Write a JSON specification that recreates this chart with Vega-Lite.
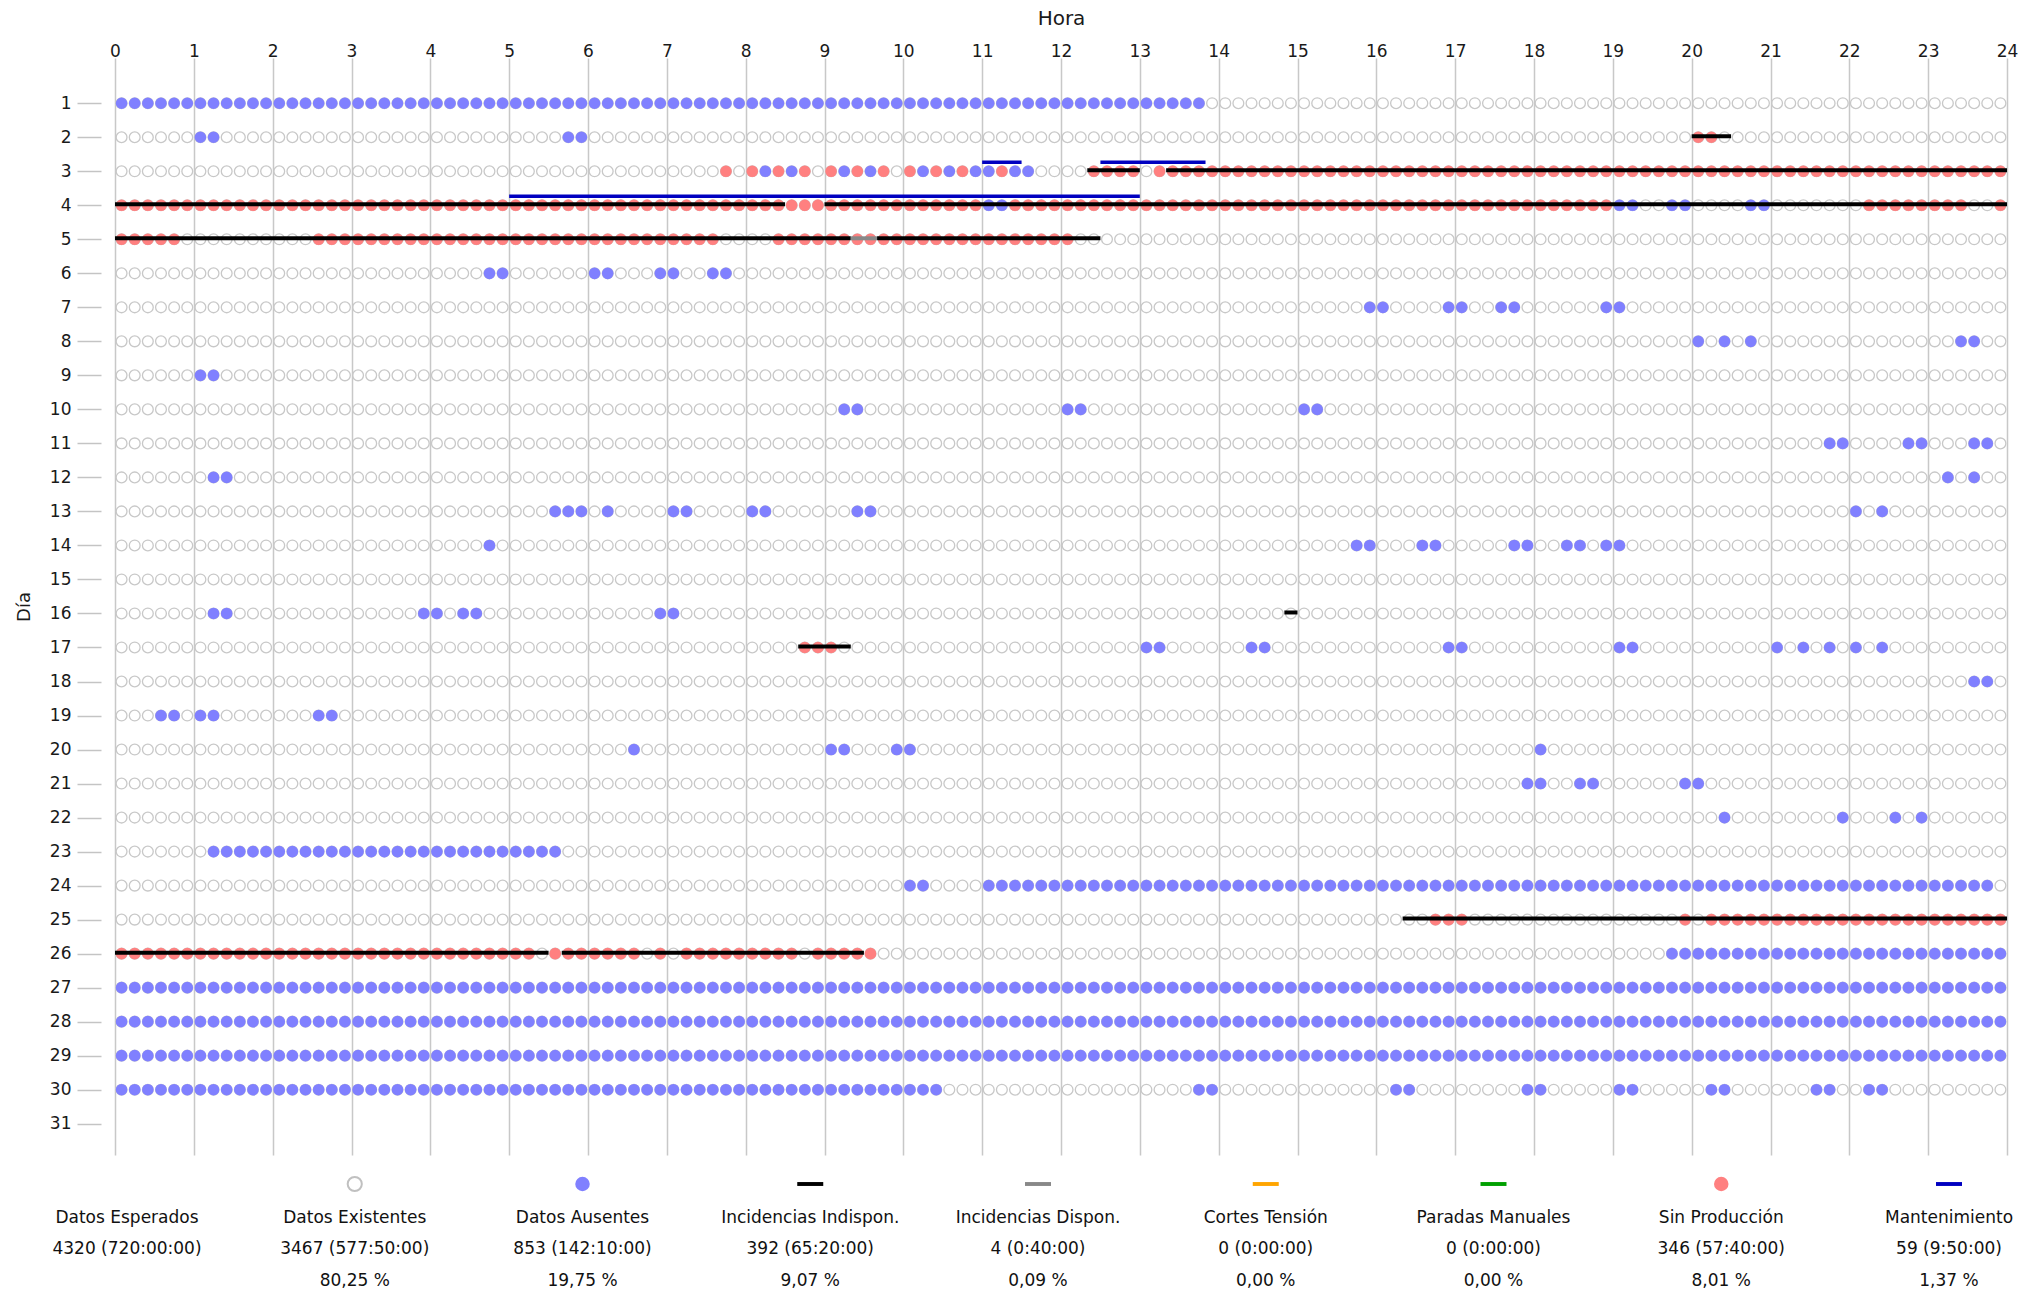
{
"$schema":"https://vega.github.io/schema/vega-lite/v6.json",
"background":"white",
"padding":{"left":15,"top":8,"right":0,"bottom":0},
"spacing":29,
"bounds":"flush",
"config":{"view":{"stroke":null},"font":"DejaVu Sans"},
"datasets":{
"esperados":[{"dia":[1,2,3,4,5,6,7,8,9,10,11,12,13,14,15,16,17,18,19,20,21,22,23,24,25,26,27,28,29,30],"min":[0,10,20,30,40,50,60,70,80,90,100,110,120,130,140,150,160,170,180,190,200,210,220,230,240,250,260,270,280,290,300,310,320,330,340,350,360,370,380,390,400,410,420,430,440,450,460,470,480,490,500,510,520,530,540,550,560,570,580,590,600,610,620,630,640,650,660,670,680,690,700,710,720,730,740,750,760,770,780,790,800,810,820,830,840,850,860,870,880,890,900,910,920,930,940,950,960,970,980,990,1000,1010,1020,1030,1040,1050,1060,1070,1080,1090,1100,1110,1120,1130,1140,1150,1160,1170,1180,1190,1200,1210,1220,1230,1240,1250,1260,1270,1280,1290,1300,1310,1320,1330,1340,1350,1360,1370,1380,1390,1400,1410,1420,1430]}],
"estados":[
{"dia":1,"serie":"Datos Ausentes","min":[0,10,20,30,40,50,60,70,80,90,100,110,120,130,140,150,160,170,180,190,200,210,220,230,240,250,260,270,280,290,300,310,320,330,340,350,360,370,380,390,400,410,420,430,440,450,460,470,480,490,500,510,520,530,540,550,560,570,580,590,600,610,620,630,640,650,660,670,680,690,700,710,720,730,740,750,760,770,780,790,800,810,820]},
{"dia":2,"serie":"Datos Ausentes","min":[60,70,340,350]},
{"dia":3,"serie":"Datos Ausentes","min":[490,510,550,570,610,630,650,660,680,690]},
{"dia":4,"serie":"Datos Ausentes","min":[660,670,1140,1150,1180,1190,1240,1250]},
{"dia":6,"serie":"Datos Ausentes","min":[280,290,360,370,410,420,450,460]},
{"dia":7,"serie":"Datos Ausentes","min":[950,960,1010,1020,1050,1060,1130,1140]},
{"dia":8,"serie":"Datos Ausentes","min":[1200,1220,1240,1400,1410]},
{"dia":9,"serie":"Datos Ausentes","min":[60,70]},
{"dia":10,"serie":"Datos Ausentes","min":[550,560,720,730,900,910]},
{"dia":11,"serie":"Datos Ausentes","min":[1300,1310,1360,1370,1410,1420]},
{"dia":12,"serie":"Datos Ausentes","min":[70,80,1390,1410]},
{"dia":13,"serie":"Datos Ausentes","min":[330,340,350,370,420,430,480,490,560,570,1320,1340]},
{"dia":14,"serie":"Datos Ausentes","min":[280,940,950,990,1000,1060,1070,1100,1110,1130,1140]},
{"dia":16,"serie":"Datos Ausentes","min":[70,80,230,240,260,270,410,420]},
{"dia":17,"serie":"Datos Ausentes","min":[780,790,860,870,1010,1020,1140,1150,1260,1280,1300,1320,1340]},
{"dia":18,"serie":"Datos Ausentes","min":[1410,1420]},
{"dia":19,"serie":"Datos Ausentes","min":[30,40,60,70,150,160]},
{"dia":20,"serie":"Datos Ausentes","min":[390,540,550,590,600,1080]},
{"dia":21,"serie":"Datos Ausentes","min":[1070,1080,1110,1120,1190,1200]},
{"dia":22,"serie":"Datos Ausentes","min":[1220,1310,1350,1370]},
{"dia":23,"serie":"Datos Ausentes","min":[70,80,90,100,110,120,130,140,150,160,170,180,190,200,210,220,230,240,250,260,270,280,290,300,310,320,330]},
{"dia":24,"serie":"Datos Ausentes","min":[600,610,660,670,680,690,700,710,720,730,740,750,760,770,780,790,800,810,820,830,840,850,860,870,880,890,900,910,920,930,940,950,960,970,980,990,1000,1010,1020,1030,1040,1050,1060,1070,1080,1090,1100,1110,1120,1130,1140,1150,1160,1170,1180,1190,1200,1210,1220,1230,1240,1250,1260,1270,1280,1290,1300,1310,1320,1330,1340,1350,1360,1370,1380,1390,1400,1410,1420]},
{"dia":26,"serie":"Datos Ausentes","min":[1180,1190,1200,1210,1220,1230,1240,1250,1260,1270,1280,1290,1300,1310,1320,1330,1340,1350,1360,1370,1380,1390,1400,1410,1420,1430]},
{"dia":27,"serie":"Datos Ausentes","min":[0,10,20,30,40,50,60,70,80,90,100,110,120,130,140,150,160,170,180,190,200,210,220,230,240,250,260,270,280,290,300,310,320,330,340,350,360,370,380,390,400,410,420,430,440,450,460,470,480,490,500,510,520,530,540,550,560,570,580,590,600,610,620,630,640,650,660,670,680,690,700,710,720,730,740,750,760,770,780,790,800,810,820,830,840,850,860,870,880,890,900,910,920,930,940,950,960,970,980,990,1000,1010,1020,1030,1040,1050,1060,1070,1080,1090,1100,1110,1120,1130,1140,1150,1160,1170,1180,1190,1200,1210,1220,1230,1240,1250,1260,1270,1280,1290,1300,1310,1320,1330,1340,1350,1360,1370,1380,1390,1400,1410,1420,1430]},
{"dia":28,"serie":"Datos Ausentes","min":[0,10,20,30,40,50,60,70,80,90,100,110,120,130,140,150,160,170,180,190,200,210,220,230,240,250,260,270,280,290,300,310,320,330,340,350,360,370,380,390,400,410,420,430,440,450,460,470,480,490,500,510,520,530,540,550,560,570,580,590,600,610,620,630,640,650,660,670,680,690,700,710,720,730,740,750,760,770,780,790,800,810,820,830,840,850,860,870,880,890,900,910,920,930,940,950,960,970,980,990,1000,1010,1020,1030,1040,1050,1060,1070,1080,1090,1100,1110,1120,1130,1140,1150,1160,1170,1180,1190,1200,1210,1220,1230,1240,1250,1260,1270,1280,1290,1300,1310,1320,1330,1340,1350,1360,1370,1380,1390,1400,1410,1420,1430]},
{"dia":29,"serie":"Datos Ausentes","min":[0,10,20,30,40,50,60,70,80,90,100,110,120,130,140,150,160,170,180,190,200,210,220,230,240,250,260,270,280,290,300,310,320,330,340,350,360,370,380,390,400,410,420,430,440,450,460,470,480,490,500,510,520,530,540,550,560,570,580,590,600,610,620,630,640,650,660,670,680,690,700,710,720,730,740,750,760,770,780,790,800,810,820,830,840,850,860,870,880,890,900,910,920,930,940,950,960,970,980,990,1000,1010,1020,1030,1040,1050,1060,1070,1080,1090,1100,1110,1120,1130,1140,1150,1160,1170,1180,1190,1200,1210,1220,1230,1240,1250,1260,1270,1280,1290,1300,1310,1320,1330,1340,1350,1360,1370,1380,1390,1400,1410,1420,1430]},
{"dia":30,"serie":"Datos Ausentes","min":[0,10,20,30,40,50,60,70,80,90,100,110,120,130,140,150,160,170,180,190,200,210,220,230,240,250,260,270,280,290,300,310,320,330,340,350,360,370,380,390,400,410,420,430,440,450,460,470,480,490,500,510,520,530,540,550,560,570,580,590,600,610,620,820,830,970,980,1070,1080,1140,1150,1210,1220,1290,1300,1330,1340]},
{"dia":2,"serie":"Sin Producción","min":[1200,1210]},
{"dia":3,"serie":"Sin Producción","min":[460,480,500,520,540,560,580,600,620,640,670,740,750,760,770,790,800,810,820,830,840,850,860,870,880,890,900,910,920,930,940,950,960,970,980,990,1000,1010,1020,1030,1040,1050,1060,1070,1080,1090,1100,1110,1120,1130,1140,1150,1160,1170,1180,1190,1200,1210,1220,1230,1240,1250,1260,1270,1280,1290,1300,1310,1320,1330,1340,1350,1360,1370,1380,1390,1400,1410,1420,1430]},
{"dia":4,"serie":"Sin Producción","min":[0,10,20,30,40,50,60,70,80,90,100,110,120,130,140,150,160,170,180,190,200,210,220,230,240,250,260,270,280,290,300,310,320,330,340,350,360,370,380,390,400,410,420,430,440,450,460,470,480,490,500,510,520,530,540,550,560,570,580,590,600,610,620,630,640,650,680,690,700,710,720,730,740,750,760,770,780,790,800,810,820,830,840,850,860,870,880,890,900,910,920,930,940,950,960,970,980,990,1000,1010,1020,1030,1040,1050,1060,1070,1080,1090,1100,1110,1120,1130,1330,1340,1350,1360,1370,1380,1390,1400,1430]},
{"dia":5,"serie":"Sin Producción","min":[0,10,20,30,40,150,160,170,180,190,200,210,220,230,240,250,260,270,280,290,300,310,320,330,340,350,360,370,380,390,400,410,420,430,440,450,500,510,520,530,540,550,560,570,580,590,600,610,620,630,640,650,660,670,680,690,700,710,720]},
{"dia":17,"serie":"Sin Producción","min":[520,530,540]},
{"dia":25,"serie":"Sin Producción","min":[1000,1010,1020,1190,1210,1220,1230,1240,1250,1260,1270,1280,1290,1300,1310,1320,1330,1340,1350,1360,1370,1380,1390,1400,1410,1420,1430]},
{"dia":26,"serie":"Sin Producción","min":[0,10,20,30,40,50,60,70,80,90,100,110,120,130,140,150,160,170,180,190,200,210,220,230,240,250,260,270,280,290,300,310,330,340,350,360,370,380,390,410,430,440,450,460,470,480,490,500,510,530,540,550,560,570]}
],
"lineas":[
{"dia":2,"serie":"Incidencias Indispon.","ini":1200,"fin":1230},
{"dia":3,"serie":"Incidencias Indispon.","ini":740,"fin":780},
{"dia":3,"serie":"Incidencias Indispon.","ini":800,"fin":1440},
{"dia":4,"serie":"Incidencias Indispon.","ini":0,"fin":510},
{"dia":4,"serie":"Incidencias Indispon.","ini":540,"fin":1440},
{"dia":5,"serie":"Incidencias Indispon.","ini":0,"fin":560},
{"dia":5,"serie":"Incidencias Indispon.","ini":580,"fin":750},
{"dia":16,"serie":"Incidencias Indispon.","ini":890,"fin":900},
{"dia":17,"serie":"Incidencias Indispon.","ini":520,"fin":560},
{"dia":25,"serie":"Incidencias Indispon.","ini":980,"fin":1440},
{"dia":26,"serie":"Incidencias Indispon.","ini":0,"fin":330},
{"dia":26,"serie":"Incidencias Indispon.","ini":340,"fin":570},
{"dia":5,"serie":"Incidencias Dispon.","ini":560,"fin":580},
{"dia":3,"serie":"Mantenimiento","ini":660,"fin":690},
{"dia":3,"serie":"Mantenimiento","ini":750,"fin":830},
{"dia":4,"serie":"Mantenimiento","ini":300,"fin":780}
],
"leyenda":[
{"serie":"Datos Esperados","valor":"4320 (720:00:00)","pct":""},
{"serie":"Datos Existentes","valor":"3467 (577:50:00)","pct":"80,25 %"},
{"serie":"Datos Ausentes","valor":"853 (142:10:00)","pct":"19,75 %"},
{"serie":"Incidencias Indispon.","valor":"392 (65:20:00)","pct":"9,07 %"},
{"serie":"Incidencias Dispon.","valor":"4 (0:40:00)","pct":"0,09 %"},
{"serie":"Cortes Tensión","valor":"0 (0:00:00)","pct":"0,00 %"},
{"serie":"Paradas Manuales","valor":"0 (0:00:00)","pct":"0,00 %"},
{"serie":"Sin Producción","valor":"346 (57:40:00)","pct":"8,01 %"},
{"serie":"Mantenimiento","valor":"59 (9:50:00)","pct":"1,37 %"}
]
},
"vconcat":[
{
"width":1892,"height":1097,
"encoding":{"y":{"field":"dia","type":"quantitative","scale":{"domain":[-0.33,31.92],"reverse":true,"nice":false,"zero":false},
"axis":{"values":[1,2,3,4,5,6,7,8,9,10,11,12,13,14,15,16,17,18,19,20,21,22,23,24,25,26,27,28,29,30,31],"title":"Día","offset":14,"tickSize":24,"tickColor":"#c4c4c4","tickWidth":1.5,"domain":false,"grid":false,"labelPadding":6,"labelFontSize":17,"labelFont":"DejaVu Sans","labelColor":"#1a1a1a","labelOverlap":false,"titleFontSize":18,"titleFont":"DejaVu Sans","titleFontWeight":"normal","titleColor":"#1a1a1a","titlePadding":16}}},
"layer":[
{"layer":[
{"data":{"name":"esperados"},"transform":[{"flatten":["min"]},{"flatten":["dia"]}],
"mark":{"type":"point","shape":"circle","filled":false,"stroke":"#c8c8c8","strokeWidth":1.3,"size":117,"opacity":1},
"encoding":{"x":{"field":"min","type":"quantitative","scale":{"domain":[-5,1435],"nice":false,"zero":false},"axis":null}}},
{"data":{"name":"estados"},"transform":[{"flatten":["min"]}],
"mark":{"type":"point","shape":"circle","filled":true,"size":135,"opacity":1},
"encoding":{"x":{"field":"min","type":"quantitative","scale":{"domain":[-5,1435],"nice":false,"zero":false},"axis":null},
"color":{"field":"serie","type":"nominal","scale":{"domain":["Datos Existentes","Datos Ausentes","Incidencias Indispon.","Incidencias Dispon.","Cortes Tensión","Paradas Manuales","Sin Producción","Mantenimiento"],"range":["#c8c8c8","#8080ff","#000000","#888888","#ffa500","#00a000","#ff8080","#0000c0"]},"legend":null}}}
]},
{"layer":[
{"data":{"name":"lineas"},"transform":[{"filter":"datum.serie !== 'Mantenimiento'"}],
"mark":{"type":"rule","strokeWidth":4,"yOffset":-1},
"encoding":{"x":{"field":"ini","type":"quantitative","scale":{"domain":[0,1440],"nice":false,"zero":false},
"axis":{"orient":"top","title":"Hora","values":[0,60,120,180,240,300,360,420,480,540,600,660,720,780,840,900,960,1020,1080,1140,1200,1260,1320,1380,1440],"labelExpr":"datum.value/60","grid":true,"gridColor":"#c8c8c8","gridWidth":1.5,"ticks":false,"domain":false,"labelFontSize":17,"labelFont":"DejaVu Sans","labelColor":"#1a1a1a","labelPadding":-2,"labelFlush":false,"labelOverlap":false,"titleFontSize":20,"titleFont":"DejaVu Sans","titleFontWeight":"normal","titleColor":"#1a1a1a","titlePadding":14}},
"x2":{"field":"fin"},
"color":{"field":"serie","type":"nominal","scale":{"domain":["Datos Existentes","Datos Ausentes","Incidencias Indispon.","Incidencias Dispon.","Cortes Tensión","Paradas Manuales","Sin Producción","Mantenimiento"],"range":["#c8c8c8","#8080ff","#000000","#888888","#ffa500","#00a000","#ff8080","#0000c0"]},"legend":null}}},
{"data":{"name":"lineas"},"transform":[{"filter":"datum.serie === 'Mantenimiento'"}],
"mark":{"type":"rule","strokeWidth":3.5,"yOffset":-9},
"encoding":{"x":{"field":"ini","type":"quantitative","scale":{"domain":[0,1440],"nice":false,"zero":false},
"axis":{"orient":"top","title":"Hora","values":[0,60,120,180,240,300,360,420,480,540,600,660,720,780,840,900,960,1020,1080,1140,1200,1260,1320,1380,1440],"labelExpr":"datum.value/60","grid":true,"gridColor":"#c8c8c8","gridWidth":1.5,"ticks":false,"domain":false,"labelFontSize":17,"labelFont":"DejaVu Sans","labelColor":"#1a1a1a","labelPadding":-2,"labelFlush":false,"labelOverlap":false,"titleFontSize":20,"titleFont":"DejaVu Sans","titleFontWeight":"normal","titleColor":"#1a1a1a","titlePadding":14}},
"x2":{"field":"fin"},
"color":{"field":"serie","type":"nominal","scale":{"domain":["Datos Existentes","Datos Ausentes","Incidencias Indispon.","Incidencias Dispon.","Cortes Tensión","Paradas Manuales","Sin Producción","Mantenimiento"],"range":["#c8c8c8","#8080ff","#000000","#888888","#ffa500","#00a000","#ff8080","#0000c0"]},"legend":null}}}
]}
],
"resolve":{"scale":{"x":"independent"}}
},
{
"width":1846,"height":95,
"data":{"name":"leyenda"},
"encoding":{"x":{"field":"serie","type":"nominal","scale":{"type":"point","domain":["Datos Esperados","Datos Existentes","Datos Ausentes","Incidencias Indispon.","Incidencias Dispon.","Cortes Tensión","Paradas Manuales","Sin Producción","Mantenimiento"],"padding":0.0527},"axis":null}},
"layer":[
{"transform":[{"filter":"datum.serie === 'Datos Existentes'"}],
"mark":{"type":"point","shape":"circle","filled":false,"stroke":"#c0c0c0","strokeWidth":2,"size":200,"opacity":1},
"encoding":{"y":{"datum":"simbolo","type":"ordinal","scale":{"type":"point","domain":["simbolo","serie","valor","pct"],"padding":0},"axis":null}}},
{"transform":[{"filter":{"field":"serie","oneOf":["Datos Ausentes","Sin Producción"]}}],
"mark":{"type":"point","shape":"circle","filled":true,"size":210,"opacity":1},
"encoding":{"y":{"datum":"simbolo","type":"ordinal","scale":{"type":"point","domain":["simbolo","serie","valor","pct"],"padding":0},"axis":null},
"color":{"field":"serie","type":"nominal","scale":{"domain":["Datos Existentes","Datos Ausentes","Incidencias Indispon.","Incidencias Dispon.","Cortes Tensión","Paradas Manuales","Sin Producción","Mantenimiento"],"range":["#c8c8c8","#8080ff","#000000","#888888","#ffa500","#00a000","#ff8080","#0000c0"]},"legend":null}}},
{"transform":[{"filter":{"field":"serie","oneOf":["Incidencias Indispon.","Incidencias Dispon.","Cortes Tensión","Paradas Manuales","Mantenimiento"]}}],
"mark":{"type":"point","shape":"M-1,-0.15H1V0.15H-1Z","filled":true,"size":676,"opacity":1},
"encoding":{"y":{"datum":"simbolo","type":"ordinal","scale":{"type":"point","domain":["simbolo","serie","valor","pct"],"padding":0},"axis":null},
"color":{"field":"serie","type":"nominal","scale":{"domain":["Datos Existentes","Datos Ausentes","Incidencias Indispon.","Incidencias Dispon.","Cortes Tensión","Paradas Manuales","Sin Producción","Mantenimiento"],"range":["#c8c8c8","#8080ff","#000000","#888888","#ffa500","#00a000","#ff8080","#0000c0"]},"legend":null}}},
{"transform":[{"fold":["serie","valor","pct"],"as":["linea","texto"]}],
"mark":{"type":"text","fontSize":17,"font":"DejaVu Sans","color":"#111111","baseline":"middle","align":"center","dy":2},
"encoding":{"y":{"field":"linea","type":"ordinal","scale":{"type":"point","domain":["simbolo","serie","valor","pct"],"padding":0},"axis":null},
"text":{"field":"texto"}}}
]
}
]
}
